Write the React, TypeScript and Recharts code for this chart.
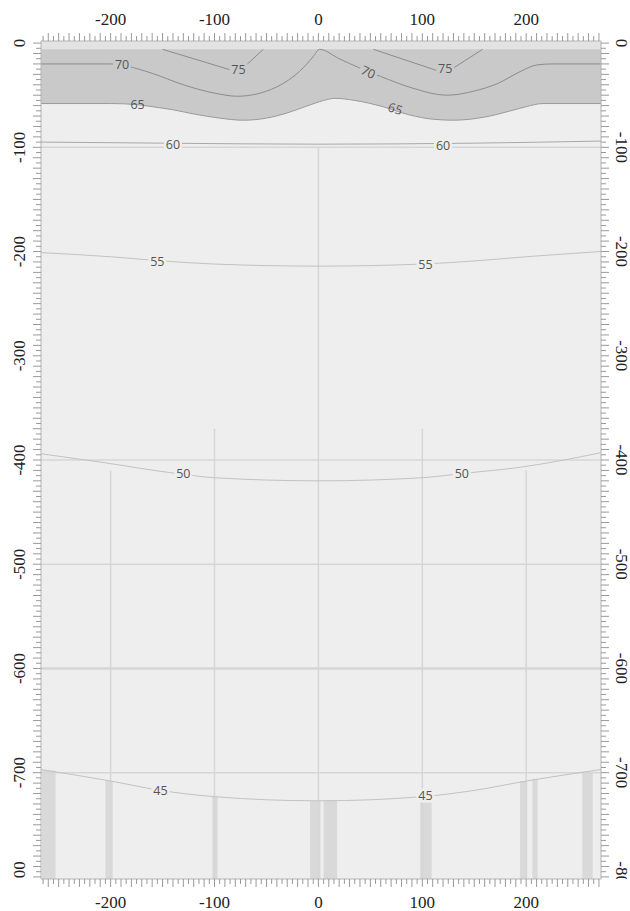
import React from 'react';
import { ComposedChart, XAxis, YAxis, Line, Area, Scatter, ReferenceLine, ReferenceArea } from 'recharts';

// axis ranges and tick labels
const X_DOMAIN: [number, number] = [-267, 272];
const Y_DOMAIN: [number, number] = [-802, 2];
const X_LABELS = [-200, -100, 0, 100, 200];
const Y_LABELS = [0, -100, -200, -300, -400, -500, -600, -700, -800];
const MINOR_STEP = 5;

// contour lines (x, y)
const C75_LEFT = [{ x: -150, y: -6 }, { x: -77, y: -28 }, { x: -53, y: -6 }];
const C75_RIGHT = [{ x: 53, y: -6 }, { x: 122, y: -29 }, { x: 158, y: -6 }];
const C70 = [
  { x: -267, y: -20 }, { x: -200, y: -20 }, { x: -185, y: -22 }, { x: -160, y: -29 },
  { x: -130, y: -40 }, { x: -100, y: -48 }, { x: -78, y: -51 }, { x: -60, y: -49 },
  { x: -40, y: -42 }, { x: -18, y: -27 }, { x: -5, y: -13 }, { x: 1, y: -6 },
  { x: 20, y: -15 }, { x: 40, y: -24 }, { x: 60, y: -32 }, { x: 90, y: -43 },
  { x: 124, y: -50 }, { x: 150, y: -46 }, { x: 172, y: -39 }, { x: 195, y: -27 },
  { x: 210, y: -21 }, { x: 225, y: -20 }, { x: 272, y: -20 },
];
const C65 = [
  { x: -267, y: -58 }, { x: -200, y: -58 }, { x: -175, y: -59 }, { x: -160, y: -61 },
  { x: -140, y: -64 }, { x: -120, y: -68 }, { x: -95, y: -72 }, { x: -72, y: -74 },
  { x: -50, y: -72 }, { x: -30, y: -67 }, { x: -10, y: -60 }, { x: 5, y: -55 },
  { x: 16, y: -53 }, { x: 35, y: -55 }, { x: 62, y: -61 }, { x: 88, y: -69 },
  { x: 110, y: -73 }, { x: 130, y: -74 }, { x: 160, y: -71 }, { x: 185, y: -65 },
  { x: 200, y: -61 }, { x: 216, y: -58 }, { x: 272, y: -58 },
];
const C60 = [
  { x: -267, y: -95 }, { x: -150, y: -96 }, { x: 0, y: -97 }, { x: 150, y: -96 }, { x: 272, y: -94 },
];
const C55 = [
  { x: -267, y: -201 }, { x: -200, y: -205 }, { x: -150, y: -209 }, { x: -100, y: -212 },
  { x: 0, y: -214 }, { x: 100, y: -212 }, { x: 150, y: -209 }, { x: 200, y: -205 }, { x: 272, y: -200 },
];
const C50 = [
  { x: -267, y: -394 }, { x: -210, y: -402 }, { x: -136, y: -413 }, { x: -100, y: -417 },
  { x: 0, y: -420 }, { x: 100, y: -417 }, { x: 138, y: -413 }, { x: 194, y: -407 }, { x: 272, y: -393 },
];
const C45 = [
  { x: -267, y: -697 }, { x: -200, y: -708 }, { x: -152, y: -717 }, { x: -100, y: -723 },
  { x: 0, y: -727 }, { x: 100, y: -723 }, { x: 150, y: -717 }, { x: 200, y: -708 }, { x: 272, y: -697 },
];

const CONTOUR_LABELS = [
  { x: -189, y: -21, text: '70', angle: 0, mask: '#c9c9c9' },
  { x: -77, y: -25, text: '75', angle: 0, mask: '#c9c9c9' },
  { x: 48, y: -28, text: '70', angle: 25, mask: '#c9c9c9' },
  { x: 122, y: -24, text: '75', angle: 0, mask: '#c9c9c9' },
  { x: -174, y: -59, text: '65', angle: 0, mask: '' },
  { x: 74, y: -63, text: '65', angle: 18, mask: '' },
  { x: -140, y: -97, text: '60', angle: 0, mask: '#eeeeee' },
  { x: 120, y: -98, text: '60', angle: 0, mask: '#eeeeee' },
  { x: -155, y: -210, text: '55', angle: 0, mask: '#eeeeee' },
  { x: 103, y: -212, text: '55', angle: 0, mask: '#eeeeee' },
  { x: -130, y: -413, text: '50', angle: 0, mask: '#eeeeee' },
  { x: 138, y: -413, text: '50', angle: 0, mask: '#eeeeee' },
  { x: -152, y: -717, text: '45', angle: 0, mask: '#eeeeee' },
  { x: 103, y: -722, text: '45', angle: 0, mask: '#eeeeee' },
];

// top of the shaded (>65) region
const BAND_TOP = -6;

// darker vertical streaks under the 45 contour
const BOTTOM_STREAKS = [
  { x1: -266, x2: -253, top: -698 },
  { x1: -205, x2: -198, top: -708 },
  { x1: -102, x2: -97, top: -723 },
  { x1: -8, x2: 2, top: -727 },
  { x1: 5, x2: 18, top: -727 },
  { x1: 98, x2: 109, top: -723 },
  { x1: 194, x2: 201, top: -708 },
  { x1: 206, x2: 211, top: -706 },
  { x1: 254, x2: 264, top: -699 },
];

const H_GRID = [-100, -400, -500, -600, -700];
const V_GRID = [
  { x: 0, from: -100 },
  { x: -100, from: -370 },
  { x: 100, from: -370 },
  { x: -200, from: -410 },
  { x: 200, from: -410 },
];

const PLOT = { left: 41, top: 41, right: 601, bottom: 879 };

const makeTicks = (lo: number, hi: number) => {
  const out: number[] = [];
  for (let v = Math.ceil(lo / MINOR_STEP) * MINOR_STEP; v <= hi; v += MINOR_STEP) out.push(v);
  return out;
};
const X_TICKS = makeTicks(X_DOMAIN[0], X_DOMAIN[1]);
const Y_TICKS = makeTicks(Y_DOMAIN[0], Y_DOMAIN[1]);

const SERIF = "'Liberation Serif', 'DejaVu Serif', serif";
const labelStyle: React.CSSProperties = { fontFamily: SERIF, fontSize: 17 };
const LABEL_FILL = '#222';
const TICK_COLOR = '#999';

const tickLen = (v: number) => (v % 10 === 0 ? 8 : 5);

const TopTick = (props: any) => {
  const { x, payload } = props;
  const v = payload.value;
  return (
    <g>
      <line x1={x} x2={x} y1={PLOT.top} y2={PLOT.top - tickLen(v)} stroke={TICK_COLOR} />
      {X_LABELS.includes(v) && (
        <text x={x} y={25} textAnchor="middle" fill={LABEL_FILL} style={labelStyle}>{v}</text>
      )}
    </g>
  );
};

const BottomTick = (props: any) => {
  const { x, payload } = props;
  const v = payload.value;
  return (
    <g>
      <line x1={x} x2={x} y1={PLOT.bottom} y2={PLOT.bottom + tickLen(v)} stroke={TICK_COLOR} />
      {X_LABELS.includes(v) && (
        <text x={x} y={908} textAnchor="middle" fill={LABEL_FILL} style={labelStyle}>{v}</text>
      )}
    </g>
  );
};

const LeftTick = (props: any) => {
  const { y, payload } = props;
  const v = payload.value;
  return (
    <g>
      <defs>
        <clipPath id={`clipL${v}`}>
          <rect x={0} y={0} width={PLOT.left} height={PLOT.bottom} />
        </clipPath>
      </defs>
      <line x1={PLOT.left} x2={PLOT.left - tickLen(v)} y1={y} y2={y} stroke={TICK_COLOR} />
      {Y_LABELS.includes(v) && (
        <g clipPath={`url(#clipL${v})`}>
          <text x={25} y={y} textAnchor="middle" transform={`rotate(-90, 25, ${y})`}
            fill={LABEL_FILL} style={labelStyle}>{v}</text>
        </g>
      )}
    </g>
  );
};

const RightTick = (props: any) => {
  const { y, payload } = props;
  const v = payload.value;
  return (
    <g>
      <defs>
        <clipPath id={`clipR${v}`}>
          <rect x={PLOT.right} y={0} width={29} height={PLOT.bottom} />
        </clipPath>
      </defs>
      <line x1={PLOT.right} x2={PLOT.right + tickLen(v)} y1={y} y2={y} stroke={TICK_COLOR} />
      {Y_LABELS.includes(v) && (
        <g clipPath={`url(#clipR${v})`}>
          <text x={616} y={y} textAnchor="middle" transform={`rotate(90, 616, ${y})`}
            fill={LABEL_FILL} style={labelStyle}>{v}</text>
        </g>
      )}
    </g>
  );
};

const ContourLabel = (props: any) => {
  const { cx, cy, payload } = props;
  if (cx == null || cy == null) return null;
  return (
    <g transform={`rotate(${payload.angle}, ${cx}, ${cy})`}>
      {payload.mask && <rect x={cx - 9} y={cy - 7} width={18} height={14} fill={payload.mask} />}
      <text x={cx} y={cy} textAnchor="middle" dominantBaseline="central" fill="#555"
        style={{ fontFamily: "'Open Sans', 'DejaVu Sans', sans-serif", fontSize: 12.5 }}>
        {payload.text}
      </text>
    </g>
  );
};

const band = C65.map(p => ({ x: p.x, range: [p.y, BAND_TOP] }));

const lineProps = {
  xAxisId: 'bottom',
  yAxisId: 'left',
  dataKey: 'y',
  dot: false,
  activeDot: false,
  isAnimationActive: false,
  strokeWidth: 1,
} as const;

const ContourChart: React.FC = () => {
  return (
    <div style={{ position: 'absolute', left: 0, top: 0 }}>
      <ComposedChart width={630} height={911} margin={{ top: 0, right: 0, bottom: 0, left: 0 }}>
        <XAxis xAxisId="top" orientation="top" type="number" dataKey="x" domain={X_DOMAIN}
          allowDataOverflow ticks={X_TICKS} interval={0} height={41} tickLine={false}
          axisLine={{ stroke: '#b5b5b5' }} tick={<TopTick />} />
        <XAxis xAxisId="bottom" orientation="bottom" type="number" dataKey="x" domain={X_DOMAIN}
          allowDataOverflow ticks={X_TICKS} interval={0} height={32} tickLine={false}
          axisLine={{ stroke: '#b5b5b5' }} tick={<BottomTick />} />
        <YAxis yAxisId="left" orientation="left" type="number" domain={Y_DOMAIN}
          allowDataOverflow ticks={Y_TICKS} interval={0} width={41} tickLine={false}
          axisLine={{ stroke: '#b5b5b5' }} tick={<LeftTick />} />
        <YAxis yAxisId="right" orientation="right" type="number" domain={Y_DOMAIN}
          allowDataOverflow ticks={Y_TICKS} interval={0} width={29} tickLine={false}
          axisLine={{ stroke: '#b5b5b5' }} tick={<RightTick />} />

        <ReferenceArea xAxisId="bottom" yAxisId="left" x1={X_DOMAIN[0]} x2={X_DOMAIN[1]}
          y1={Y_DOMAIN[0]} y2={Y_DOMAIN[1]} fill="#eeeeee" fillOpacity={1} stroke="none" />
        <ReferenceArea xAxisId="bottom" yAxisId="left" x1={X_DOMAIN[0]} x2={X_DOMAIN[1]}
          y1={BAND_TOP} y2={Y_DOMAIN[1]} fill="#e3e3e3" fillOpacity={1} stroke="none" />
        <Area xAxisId="bottom" yAxisId="left" data={band} dataKey="range" type="monotone"
          fill="#c9c9c9" fillOpacity={1} stroke="none" isAnimationActive={false} activeDot={false} />

        {BOTTOM_STREAKS.map((s, i) => (
          <ReferenceArea key={`s${i}`} xAxisId="bottom" yAxisId="left" x1={s.x1} x2={s.x2}
            y1={Y_DOMAIN[0]} y2={s.top} fill="#d9d9d9" fillOpacity={1} stroke="none" />
        ))}

        {H_GRID.map(v => (
          <ReferenceLine key={`h${v}`} xAxisId="bottom" yAxisId="left" y={v}
            stroke="#d6d6d6" strokeWidth={v === -600 ? 2.5 : 1.5} />
        ))}
        {V_GRID.map(g => (
          <ReferenceLine key={`v${g.x}`} xAxisId="bottom" yAxisId="left"
            segment={[{ x: g.x, y: g.from }, { x: g.x, y: Y_DOMAIN[0] }]}
            stroke="#d6d6d6" strokeWidth={1.5} />
        ))}

        <Line {...lineProps} data={C75_LEFT} type="linear" stroke="#8c8c8c" />
        <Line {...lineProps} data={C75_RIGHT} type="linear" stroke="#8c8c8c" />
        <Line {...lineProps} data={C70} type="monotone" stroke="#8c8c8c" />
        <Line {...lineProps} data={C65} type="monotone" stroke="#9a9a9a" />
        <Line {...lineProps} data={C60} type="monotone" stroke="#a8a8a8" />
        <Line {...lineProps} data={C55} type="monotone" stroke="#c2c2c2" />
        <Line {...lineProps} data={C50} type="monotone" stroke="#c2c2c2" />
        <Line {...lineProps} data={C45} type="monotone" stroke="#c2c2c2" />

        <Scatter xAxisId="bottom" yAxisId="left" data={CONTOUR_LABELS} dataKey="y"
          shape={<ContourLabel />} isAnimationActive={false} />
      </ComposedChart>
    </div>
  );
};

export default ContourChart;
